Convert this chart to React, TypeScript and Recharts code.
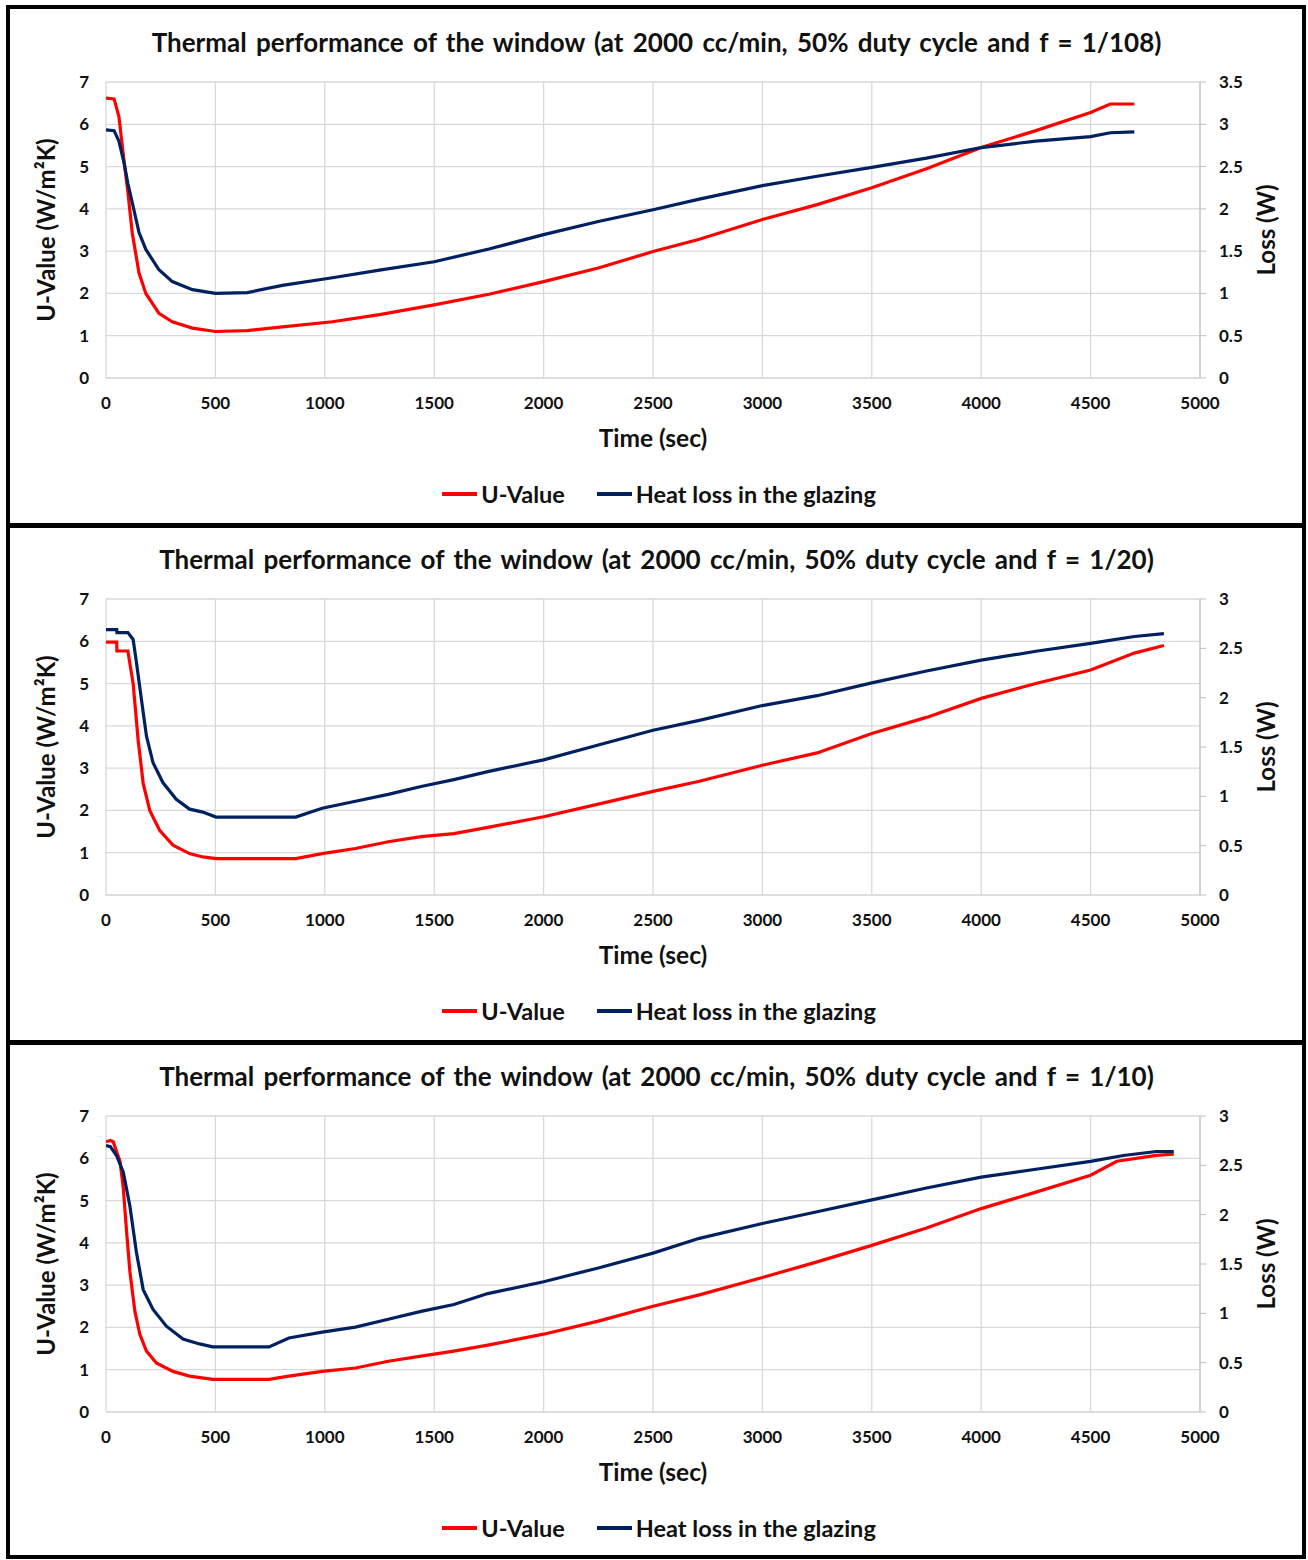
import React from 'react';
import { LineChart, Line, XAxis, YAxis, CartesianGrid, Legend } from 'recharts';

// ---------- data ----------
const TITLES = [
  'Thermal performance of the window (at 2000 cc/min, 50% duty cycle and f = 1/108)',
  'Thermal performance of the window (at 2000 cc/min, 50% duty cycle and f = 1/20)',
  'Thermal performance of the window (at 2000 cc/min, 50% duty cycle and f = 1/10)',
];
const SERIES_NAMES = ['U-Value', 'Heat loss in the glazing'];
const X_TICKS = [0, 500, 1000, 1500, 2000, 2500, 3000, 3500, 4000, 4500, 5000];
const LEFT_TICKS = [0, 1, 2, 3, 4, 5, 6, 7];
const RIGHT_TICKS_A = [0, 0.5, 1, 1.5, 2, 2.5, 3, 3.5];
const RIGHT_TICKS_B = [0, 0.5, 1, 1.5, 2, 2.5, 3];

// Panel 1 (f = 1/108)
const P1_T = [0, 37, 59, 82, 100, 120, 151, 182, 242, 303, 395, 500, 646, 806, 1035, 1250, 1500, 1750, 2000, 2250, 2500, 2712, 3000, 3250, 3500, 3750, 4000, 4250, 4500, 4590, 4700];
const P1_U = [6.62, 6.6, 6.18, 5.15, 4.4, 3.43, 2.48, 2.0, 1.53, 1.33, 1.18, 1.1, 1.12, 1.21, 1.33, 1.5, 1.73, 1.98, 2.28, 2.6, 2.99, 3.28, 3.75, 4.1, 4.5, 4.95, 5.45, 5.85, 6.28, 6.48, 6.48];
const P1_LOSS = [2.935, 2.925, 2.8, 2.55, 2.3, 2.075, 1.72, 1.52, 1.28, 1.14, 1.045, 1.0, 1.01, 1.095, 1.185, 1.275, 1.375, 1.525, 1.695, 1.85, 1.99, 2.115, 2.275, 2.385, 2.49, 2.6, 2.725, 2.8, 2.855, 2.9, 2.91];

// Panel 2 (f = 1/20)
const P2_U_T = [0, 49, 50, 100, 124, 147, 170, 200, 245, 306, 382, 442, 503, 867, 988, 1140, 1290, 1440, 1590, 1745, 2000, 2250, 2500, 2712, 3000, 3250, 3500, 3750, 4000, 4250, 4500, 4700, 4835];
const P2_U = [5.98, 5.98, 5.77, 5.77, 5.0, 3.66, 2.64, 2.0, 1.53, 1.18, 0.98, 0.9, 0.86, 0.86, 0.98, 1.1, 1.26, 1.38, 1.45, 1.6, 1.85, 2.15, 2.45, 2.69, 3.07, 3.36, 3.82, 4.2, 4.65, 5.0, 5.32, 5.72, 5.9];
const P2_L_T = [0, 49, 50, 100, 124, 139, 162, 185, 215, 260, 321, 382, 442, 503, 867, 988, 1140, 1290, 1440, 1590, 1745, 2000, 2250, 2500, 2712, 3000, 3250, 3500, 3750, 4000, 4250, 4500, 4700, 4835];
const P2_LOSS = [2.69, 2.69, 2.66, 2.66, 2.59, 2.36, 1.98, 1.61, 1.34, 1.14, 0.97, 0.87, 0.84, 0.79, 0.79, 0.88, 0.95, 1.02, 1.1, 1.17, 1.25, 1.37, 1.52, 1.67, 1.77, 1.92, 2.02, 2.15, 2.27, 2.38, 2.47, 2.55, 2.62, 2.65];

// Panel 3 (f = 1/10)
const P3_U_T = [0, 20, 33, 64, 79, 94, 109, 132, 155, 185, 230, 306, 382, 488, 745, 836, 988, 1140, 1290, 1440, 1590, 1745, 2000, 2250, 2500, 2712, 3000, 3250, 3500, 3750, 4000, 4250, 4500, 4620, 4800, 4880];
const P3_U = [6.39, 6.42, 6.39, 5.93, 5.3, 4.27, 3.33, 2.38, 1.83, 1.44, 1.16, 0.96, 0.85, 0.77, 0.77, 0.85, 0.96, 1.04, 1.2, 1.32, 1.44, 1.58, 1.84, 2.15, 2.5, 2.77, 3.18, 3.55, 3.94, 4.35, 4.81, 5.2, 5.6, 5.93, 6.07, 6.1];
const P3_L_T = [0, 20, 48, 79, 109, 139, 170, 215, 276, 352, 427, 488, 745, 836, 988, 1140, 1290, 1440, 1590, 1745, 2000, 2250, 2500, 2712, 3000, 3250, 3500, 3750, 4000, 4250, 4500, 4650, 4800, 4880];
const P3_LOSS = [2.7, 2.69, 2.6, 2.43, 2.09, 1.62, 1.24, 1.04, 0.87, 0.74, 0.69, 0.66, 0.66, 0.75, 0.81, 0.86, 0.94, 1.02, 1.09, 1.2, 1.32, 1.46, 1.61, 1.76, 1.91, 2.03, 2.15, 2.27, 2.38, 2.46, 2.54, 2.6, 2.64, 2.64];

const zip = (ts: number[], vs: number[]) => ts.map((t, i) => ({ t, v: vs[i] }));

const FONT = 'Lato, "Open Sans", sans-serif';
const TEXT = '#111';
const GRID = '#d9d9d9';
const RED = '#ff0000';
const BLUE = '#002060';

const renderLegend = (props: any) => {
  const items = [...(props.payload || [])].sort(
    (a: any, b: any) => SERIES_NAMES.indexOf(a.value) - SERIES_NAMES.indexOf(b.value)
  );
  return (
    <div style={{ display: 'flex', justifyContent: 'center', alignItems: 'center', height: 30, paddingLeft: 10, fontFamily: FONT, fontWeight: 700, fontSize: 23.5, color: TEXT }}>
      {items.map((p: any, i: number) => (
        <div key={i} style={{ display: 'flex', alignItems: 'center', marginLeft: i ? 32 : 0 }}>
          <div style={{ width: 35, height: 4, background: p.color, marginRight: 4 }} />
          <span>{p.value}</span>
        </div>
      ))}
    </div>
  );
};

const leftLabel = (props: any) => {
  const vb = props.viewBox;
  const x = 45;
  const y = vb.y + vb.height / 2;
  return (
    <text x={x} y={y} transform={`rotate(-90, ${x}, ${y})`} textAnchor="middle" dominantBaseline="central" fontFamily={FONT} fontWeight={700} fontSize={24} fill={TEXT}>
      U-Value (W/m²K)
    </text>
  );
};

const rightLabel = (props: any) => {
  const vb = props.viewBox;
  const x = 1265;
  const y = vb.y + vb.height / 2;
  return (
    <text x={x} y={y} transform={`rotate(-90, ${x}, ${y})`} textAnchor="middle" dominantBaseline="central" fontFamily={FONT} fontWeight={700} fontSize={24} fill={TEXT}>
      Loss (W)
    </text>
  );
};

const bottomLabel = (props: any) => {
  const vb = props.viewBox;
  const x = vb.x + vb.width / 2;
  const y = vb.y + 59;
  return (
    <text x={x} y={y} textAnchor="middle" dominantBaseline="central" fontFamily={FONT} fontWeight={700} fontSize={24.5} fill={TEXT}>
      Time (sec)
    </text>
  );
};

const tickStyle = { fontFamily: FONT, fontWeight: 700, fontSize: 17, fill: TEXT };

function Panel(props: { top: number; title: string; uData: any[]; lData: any[]; rightMax: number; rightTicks: number[] }) {
  const { top, title, uData, lData, rightMax, rightTicks } = props;
  return (
    <div style={{ position: 'absolute', left: 0, top, width: 1308, height: 517 }}>
      <div style={{ position: 'absolute', left: 0, top: 26, width: 1308, paddingLeft: 5, boxSizing: 'border-box', textAlign: 'center', lineHeight: '32px', fontFamily: FONT, fontWeight: 700, fontSize: 26, color: TEXT, wordSpacing: 3 }}>
        {title}
      </div>
      <LineChart width={1308} height={517} margin={{ top: 82, right: 0, bottom: 8, left: 0 }}>
        <CartesianGrid yAxisId="left" stroke={GRID} strokeWidth={1.3} />
        <XAxis dataKey="t" type="number" domain={[0, 5000]} ticks={X_TICKS} interval={0} height={101} tickLine={false} axisLine={{ stroke: GRID }} tickMargin={13} tick={tickStyle} label={bottomLabel} allowDataOverflow />
        <YAxis yAxisId="left" orientation="left" width={106} domain={[0, 7]} ticks={LEFT_TICKS} interval={0} tickLine={false} axisLine={false} tickMargin={11} tick={tickStyle} label={leftLabel} />
        <YAxis yAxisId="right" orientation="right" width={108} domain={[0, rightMax]} ticks={rightTicks} interval={0} tickLine={{ stroke: '#bfbfbf' }} tickSize={6} axisLine={{ stroke: '#bfbfbf' }} tickMargin={13} tick={tickStyle} label={rightLabel} />
        <Legend verticalAlign="bottom" content={renderLegend} />
        <Line yAxisId="left" data={uData} dataKey="v" name={SERIES_NAMES[0]} stroke={RED} strokeWidth={3.2} dot={false} isAnimationActive={false} />
        <Line yAxisId="right" data={lData} dataKey="v" name={SERIES_NAMES[1]} stroke={BLUE} strokeWidth={3.2} dot={false} isAnimationActive={false} />
      </LineChart>
    </div>
  );
}

export default function App() {
  return (
    <div style={{ position: 'absolute', left: 0, top: 0, width: 1308, height: 1560, background: '#fff' }}>
      <Panel top={0} title={TITLES[0]} uData={zip(P1_T, P1_U)} lData={zip(P1_T, P1_LOSS)} rightMax={3.5} rightTicks={RIGHT_TICKS_A} />
      <Panel top={517} title={TITLES[1]} uData={zip(P2_U_T, P2_U)} lData={zip(P2_L_T, P2_LOSS)} rightMax={3} rightTicks={RIGHT_TICKS_B} />
      <Panel top={1034} title={TITLES[2]} uData={zip(P3_U_T, P3_U)} lData={zip(P3_L_T, P3_LOSS)} rightMax={3} rightTicks={RIGHT_TICKS_B} />
      <div style={{ position: 'absolute', left: 6, top: 5, width: 1300, height: 1554, border: '4px solid #000', boxSizing: 'border-box', pointerEvents: 'none' }} />
      <div style={{ position: 'absolute', left: 6, top: 523, width: 1300, height: 5, background: '#000' }} />
      <div style={{ position: 'absolute', left: 6, top: 1040, width: 1300, height: 5, background: '#000' }} />
    </div>
  );
}
